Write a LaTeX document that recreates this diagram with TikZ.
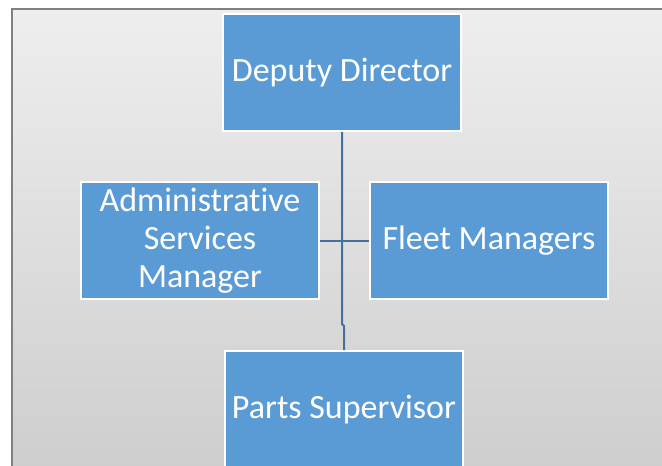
\documentclass[tikz,border=0pt]{standalone}
\usepackage{fontspec}
\setmainfont{Carlito}[Ligatures={NoCommon}]
\definecolor{boxblue}{HTML}{5B9BD5}
\definecolor{linkblue}{HTML}{41719C}
\definecolor{bgtop}{HTML}{EEEEEE}
\definecolor{bgbot}{HTML}{CFCECE}
\definecolor{frame}{HTML}{808080}
\begin{document}
\begin{tikzpicture}[x=1pt,y=-1pt,
  orgbox/.style={draw=white, line width=2pt, fill=boxblue, text=white,
    minimum width=238pt, minimum height=117pt, inner sep=0pt, align=center,
    font=\fontsize{34}{38}\selectfont, anchor=north west},
  link/.style={draw=linkblue, line width=2pt}]
\useasboundingbox (0,0) rectangle (662,466);
\shade[top color=bgtop, bottom color=bgbot] (12,9) rectangle (662,466);
\draw[frame, line width=2pt] (12,466) -- (12,9) -- (662,9);
\node[orgbox] (dd) at (222,13) {Deputy Director};
\node[orgbox] (asm) at (80,181) {Administrative\\Services\\Manager};
\node[orgbox] (fm) at (369,181) {Fleet Managers};
\node[orgbox] (ps) at (224,350) {Parts Supervisor};
\coordinate (j1) at (342,324);
\coordinate (j2) at (344,326);
\draw[link] (dd.south -| j1) -- (j1) -- (j2) -- (ps.north -| j2);
\draw[link] (asm.east) -- (fm.west);
\end{tikzpicture}
\end{document}
